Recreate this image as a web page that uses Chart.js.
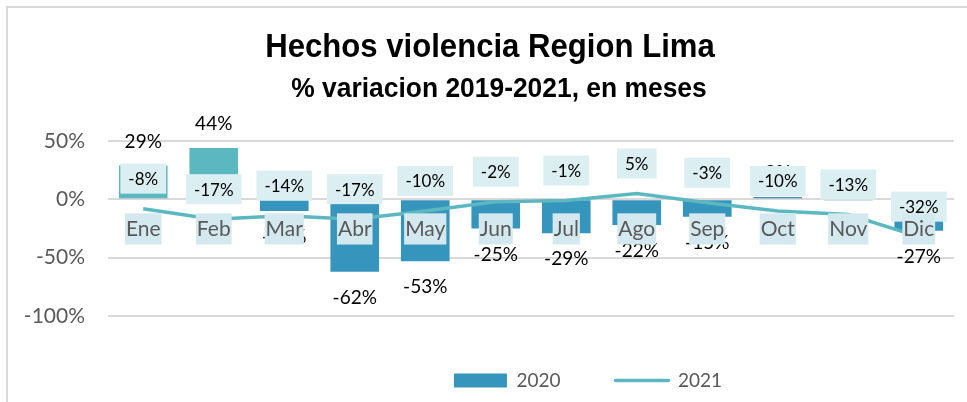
<!DOCTYPE html>
<html>
<head>
<meta charset="utf-8">
<script src="https://cdn.jsdelivr.net/npm/chart.js@4/dist/chart.umd.min.js"></script>
<style>
  html, body { margin: 0; padding: 0; background: #fff; }
  #frame {
    position: absolute; left: 6px; top: 6px; width: 961px; height: 396px;
    border-left: 2px solid #d9d9d9; border-top: 2px solid #d9d9d9;
  }
  #wrap { position: absolute; left: 0; top: 0; width: 967px; height: 402px; }
</style>
</head>
<body>
<div id="frame"></div>
<div id="wrap"><canvas id="chart"></canvas></div>
<script>
const titleText = 'Hechos violencia Region Lima';
const subtitleText = '% variacion 2019-2021, en meses';
const months = ['Ene', 'Feb', 'Mar', 'Abr', 'May', 'Jun', 'Jul', 'Ago', 'Sep', 'Oct', 'Nov', 'Dic'];
const values2020 = [29, 44, -10, -62, -53, -25, -29, -22, -15, 2, -1, -27];
const values2021 = [-8, -17, -14, -17, -10, -2, -1, 5, -3, -10, -13, -32];
const yTicks = [50, 0, -50, -100];

const BAR_BLUE = '#3595bc';
const BAR_TEAL = '#5bb7c0';
const LINE_TEAL = '#5bb8c1';
const TEXT_GREY = '#595959';
const FONT = 'Lato, "Open Sans", sans-serif';
const TITLE_FONT = '"Liberation Sans", Arial, sans-serif';

// narrow bold title, drawn condensed like the original Arial Narrow
const titleBlock = {
	id: 'titleBlock',
	afterDraw(chart) {
		let {ctx} = chart;
		let rows = [
			{text: titleText, size: 34, squeeze: 0.915, x: 490, y: 57},
			{text: subtitleText, size: 28, squeeze: 0.943, x: 499, y: 97},
		];
		ctx.save();
		ctx.fillStyle = '#000';
		ctx.textAlign = 'center';
		ctx.textBaseline = 'alphabetic';
		rows.forEach((r) => {
			ctx.save();
			ctx.translate(r.x, r.y);
			ctx.scale(r.squeeze, 1);
			ctx.font = 'bold ' + r.size + 'px ' + TITLE_FONT;
			ctx.fillText(r.text, 0, 0);
			ctx.restore();
		});
		ctx.restore();
	},
};

// value labels: plain text for 2020, boxed labels above the 2021 line
const valueLabels = {
	id: 'valueLabels',
	afterDatasetsDraw(chart) {
		let {ctx} = chart;
		ctx.save();
		ctx.textAlign = 'center';
		ctx.textBaseline = 'middle';

		ctx.font = '19px ' + FONT;
		ctx.fillStyle = '#000';
		chart.getDatasetMeta(0).data.forEach((bar, i) => {
			let v = values2020[i];
			let y = v >= 0 ? bar.y - 24 : bar.y + 26;
			ctx.fillText(v + '%', bar.x, y);
		});

		ctx.font = '17px ' + FONT;
		chart.getDatasetMeta(1).data.forEach((pt, i) => {
			let text = values2021[i] + '%';
			let w = ctx.measureText(text).width + 16;
			let h = 30;
			let cy = pt.y - 30;
			ctx.fillStyle = '#dbeef1';
			ctx.fillRect(pt.x - w / 2, cy - h / 2, w, h);
			ctx.fillStyle = '#000';
			ctx.fillText(text, pt.x, cy + 1);
		});
		ctx.restore();
	},
};

// move the legend under the right part of the plot, as in the original
const legendShift = {
	id: 'legendShift',
	afterLayout(chart) {
		chart.legend.left += 111;
		chart.legend.right += 111;
	},
};

new Chart(document.getElementById('chart'), {
	type: 'bar',
	data: {
		labels: months,
		datasets: [
			{
				label: '2020',
				data: values2020,
				order: 1,
				backgroundColor: (c) => (c.raw > 10 ? BAR_TEAL : BAR_BLUE),
				borderWidth: 0,
				barPercentage: 0.69,
				categoryPercentage: 1,
			},
			{
				type: 'line',
				label: '2021',
				data: values2021,
				order: 0,
				borderColor: LINE_TEAL,
				backgroundColor: LINE_TEAL,
				borderWidth: 3.5,
				pointRadius: 0,
				tension: 0,
			},
		],
	},
	options: {
		responsive: true,
		maintainAspectRatio: false,
		animation: false,
		layout: {padding: {left: 0, right: 13, top: 141, bottom: 2}},
		scales: {
			x: {
				position: {y: 0},
				offset: true,
				grid: {display: false, drawTicks: false},
				border: {display: false},
				ticks: {
					z: 1,
					padding: 17,
					color: TEXT_GREY,
					font: {family: FONT, size: 21},
					showLabelBackdrop: true,
					backdropColor: '#d4e9ef',
					backdropPadding: {top: 3, bottom: 3, left: 1, right: 1},
				},
			},
			y: {
				min: -100,
				max: 50,
				afterFit(scale) {
					scale.width = 108;
				},
				afterBuildTicks(scale) {
					scale.ticks = yTicks.map((value) => ({value}));
				},
				grid: {color: '#d9d9d9', lineWidth: 2, drawTicks: false},
				border: {display: false},
				ticks: {
					padding: 23,
					color: TEXT_GREY,
					font: {family: FONT, size: 21},
					callback: (v) => v + '%',
				},
			},
		},
		plugins: {
			title: {display: false},
			legend: {
				position: 'bottom',
				labels: {
					usePointStyle: true,
					pointStyleWidth: 53,
					boxHeight: 14,
					padding: 55,
					color: TEXT_GREY,
					font: {family: FONT, size: 19},
					generateLabels(chart) {
						let items = Chart.defaults.plugins.legend.labels.generateLabels(chart);
						items.sort((a, b) => a.datasetIndex - b.datasetIndex);
						items.forEach((item) => {
							if (item.datasetIndex === 0) {
								item.pointStyle = 'rect';
								item.fillStyle = BAR_BLUE;
								item.lineWidth = 0;
							} else {
								item.pointStyle = 'line';
								item.strokeStyle = LINE_TEAL;
								item.lineWidth = 3.5;
								item.lineCap = 'round';
							}
						});
						return items;
					},
				},
			},
			tooltip: {enabled: false},
		},
	},
	plugins: [valueLabels, titleBlock, legendShift],
});
</script>
</body>
</html>
